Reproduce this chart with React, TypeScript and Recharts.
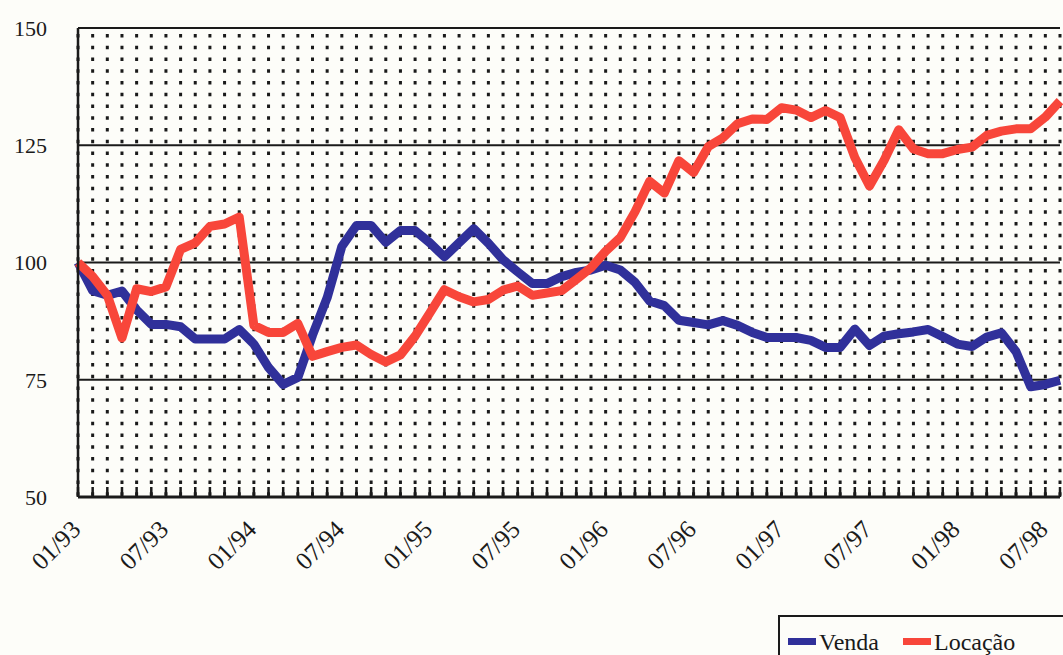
import { LineChart, Line, XAxis, YAxis, CartesianGrid } from "recharts"

// monthly index, 01/93 .. 08/98 (base = 100 in 01/93)
const tickLabels = ["01/93", "07/93", "01/94", "07/94", "01/95", "07/95", "01/96", "07/96", "01/97", "07/97", "01/98", "07/98"]

const venda = [
  100, 94, 93, 93.9, 89.9, 86.8, 86.8, 86.3, 83.7, 83.7, 83.7, 85.7,
  82.6, 77.6, 74, 75.5, 84.5, 92.5, 103.4, 107.9, 107.9, 104.3, 106.8, 106.8,
  104.2, 101.2, 104.2, 107.2, 104.1, 100.6, 98, 95.5, 95.5, 97, 97.9, 98.4,
  99.4, 98.4, 95.8, 91.8, 90.8, 87.7, 87.2, 86.7, 87.6, 86.6, 85.1, 84,
  84, 84, 83.4, 81.9, 81.9, 85.8, 82.3, 84.3, 84.8, 85.2, 85.7, 84.2,
  82.6, 82.1, 84.1, 85, 81, 73.5, 74, 74.9,
]

const locacao = [
  100, 97, 93, 83.9, 94.4, 93.8, 94.8, 102.8, 104.2, 107.7, 108.2, 109.7,
  86.6, 85.1, 85.1, 87, 80, 81, 81.9, 82.4, 80.4, 78.8, 80.3, 84.3,
  89.2, 94.2, 92.7, 91.6, 92.1, 94.1, 95, 93, 93.5, 94, 96.4, 98.9,
  102.4, 105.3, 110.8, 117.3, 114.8, 121.7, 119.2, 124.7, 126.6, 129.6, 130.6, 130.5,
  133, 132.5, 130.9, 132.4, 130.9, 122.4, 116.3, 121.8, 128.3, 124.2, 123.2, 123.2,
  124.1, 124.6, 127.1, 128, 128.5, 128.5, 131, 134.4,
]

const yTicks = [50, 75, 100, 125, 150]

const monthIdx = venda.map((_, i) => i)
const data = venda.map((v, i) => ({ i, venda: v, locacao: locacao[i] }))

const BLUE = "#30309a"
const RED = "#f8463a"
const INK = "#1a1a1a"
const FONT = "'Liberation Serif', 'DejaVu Serif', serif"

function MonthTick(props: any) {
  const { x, y, payload } = props
  const i = payload.value
  const label = i % 6 === 0 ? tickLabels[i / 6] : null
  const ax = x + 4
  const ay = y + 34
  return (
    <g>
      <line x1={x} x2={x} y1={y} y2={y - 10} stroke={INK} strokeWidth={2.5} />
      {label && (
        <text
          x={ax}
          y={ay}
          transform={`rotate(-45, ${ax}, ${ay})`}
          textAnchor="end"
          fontFamily={FONT}
          fontSize={25}
          fill={INK}
        >
          {label}
        </text>
      )}
    </g>
  )
}

function LegendBox() {
  const item = (color: string, text: string) => (
    <span style={{ display: "inline-flex", alignItems: "center", marginRight: 24 }}>
      <span style={{ width: 28, height: 7, background: color, display: "inline-block", marginRight: 3 }} />
      <span>{text}</span>
    </span>
  )
  return (
    <div
      style={{
        position: "absolute",
        left: 778,
        top: 615,
        width: 320,
        height: 60,
        borderTop: `2px solid ${INK}`,
        borderLeft: `2px solid ${INK}`,
        padding: "6px 0 0 8px",
        fontFamily: FONT,
        fontSize: 24,
        color: INK,
        lineHeight: "28px",
        whiteSpace: "nowrap",
        boxSizing: "border-box",
      }}
    >
      {item(BLUE, "Venda")}
      {item(RED, "Locação")}
    </div>
  )
}

export default function App() {
  return (
    <div
      style={{
        position: "absolute",
        left: 0,
        top: 0,
        width: 1063,
        height: 655,
        overflow: "hidden",
        background: "#fdfdf9",
      }}
    >
      <LineChart
        width={1075}
        height={655}
        data={data}
        margin={{ top: 28, right: 15, left: 0, bottom: 0 }}
      >
        <CartesianGrid
          horizontal={false}
          vertical
          stroke={INK}
          strokeWidth={3}
          strokeDasharray="0 6 3.5 2.25"
        />
        <CartesianGrid horizontal vertical={false} stroke={INK} strokeWidth={2} />
        <XAxis
          type="number"
          dataKey="i"
          domain={[0, 67]}
          ticks={monthIdx}
          interval={0}
          height={158}
          tickSize={0}
          tickMargin={0}
          tickLine={false}
          axisLine={{ stroke: INK, strokeWidth: 3 }}
          tick={<MonthTick />}
        />
        <YAxis
          domain={[50, 150]}
          ticks={yTicks}
          width={78}
          tickSize={0}
          tickMargin={31}
          tickLine={false}
          axisLine={{ stroke: INK, strokeWidth: 2.5 }}
          tick={{ fill: INK, fontFamily: FONT, fontSize: 22 }}
        />
        <Line
          type="linear"
          dataKey="venda"
          stroke={BLUE}
          strokeWidth={9}
          strokeLinejoin="round"
          dot={false}
          activeDot={false}
          isAnimationActive={false}
        />
        <Line
          type="linear"
          dataKey="locacao"
          stroke={RED}
          strokeWidth={9}
          strokeLinejoin="round"
          dot={false}
          activeDot={false}
          isAnimationActive={false}
        />
      </LineChart>
      <LegendBox />
    </div>
  )
}
